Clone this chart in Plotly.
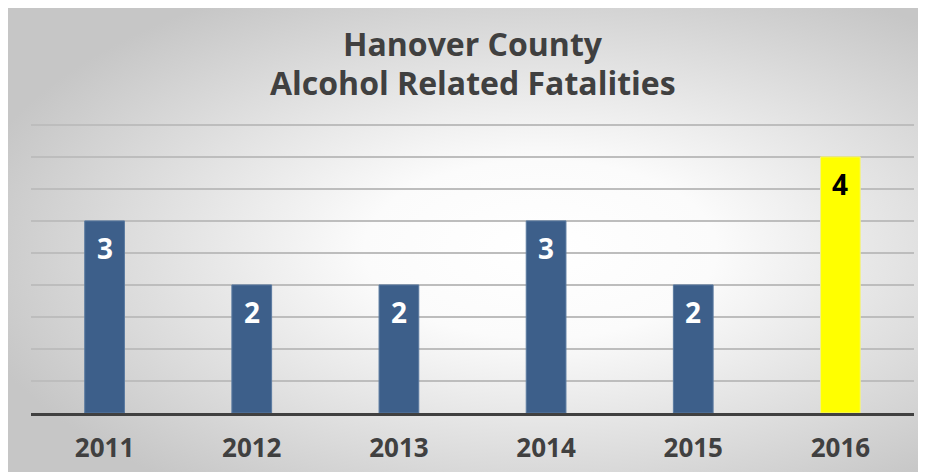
import base64
import plotly.graph_objects as go

years = ["2011", "2012", "2013", "2014", "2015", "2016"]
fatalities = [3, 2, 2, 3, 2, 4]
bar_colors = ["#3D5F8A", "#3D5F8A", "#3D5F8A", "#3D5F8A", "#3D5F8A", "#FFFF00"]
line_colors = ["#5a7aa0", "#5a7aa0", "#5a7aa0", "#5a7aa0", "#5a7aa0", "#f2f08a"]
label_colors = ["white", "white", "white", "white", "white", "black"]
title_lines = ["Hanover County", "Alcohol Related Fatalities"]

# page body has an 8px margin; figure coordinates = reference coordinates - 8
W, H = 918, 464
L, R, T, B = 23, 12, 113, 59

svg = f"""<svg xmlns='http://www.w3.org/2000/svg' width='{W}' height='{H}' viewBox='0 0 {W} {H}' preserveAspectRatio='none'>
<defs><radialGradient id='g' cx='0.58' cy='0.52' r='0.64' gradientUnits='objectBoundingBox'>
<stop offset='0' stop-color='#ffffff'/><stop offset='0.3' stop-color='#fbfbfb'/>
<stop offset='1' stop-color='#c6c6c6'/></radialGradient></defs>
<rect x='0' y='0' width='{W}' height='{H}' fill='url(#g)'/>
</svg>"""
src = "data:image/svg+xml;base64," + base64.b64encode(svg.encode()).decode()

pw = W - L - R
ph = H - T - B

fig = go.Figure()
fig.add_trace(go.Bar(
    x=years, y=fatalities, width=0.27,
    marker=dict(color=bar_colors, line=dict(color=line_colors, width=1)),
    hoverinfo="skip",
))

for i, (v, c) in enumerate(zip(fatalities, label_colors)):
    fig.add_annotation(x=i, y=v, text=f"<b>{v}</b>", showarrow=False,
                       yanchor="middle", yshift=-27,
                       font=dict(family="Open Sans", size=28, color=c))

fig.add_annotation(xref="paper", yref="paper", x=0.5, y=1 + (T - 36) / ph,
                   text=f"<b>{title_lines[0]}</b>", showarrow=False, yanchor="middle",
                   font=dict(family="Open Sans", size=32, color="#404040"))
fig.add_annotation(xref="paper", yref="paper", x=0.5, y=1 + (T - 75) / ph,
                   text=f"<b>{title_lines[1]}</b>", showarrow=False, yanchor="middle",
                   font=dict(family="Open Sans", size=32, color="#404040"))

fig.add_layout_image(dict(source=src, xref="paper", yref="paper",
                          x=-L / pw, y=1 + T / ph, sizex=W / pw, sizey=H / ph,
                          xanchor="left", yanchor="top", sizing="stretch", layer="below"))

fig.update_layout(
    width=W, height=H,
    margin=dict(l=L, r=R, t=T, b=B, pad=0, autoexpand=False),
    paper_bgcolor="rgba(0,0,0,0)", plot_bgcolor="rgba(0,0,0,0)",
    showlegend=False,
    xaxis=dict(type="category", range=[-0.5, 5.5], automargin=False, showgrid=False,
               showline=True, linecolor="#404040", linewidth=2.5,
               ticks="", tickfont=dict(family="Open Sans", size=26, color="#404040"),
               ticklabelstandoff=10, tickprefix="<b>", ticksuffix="</b>"),
    yaxis=dict(range=[0, 4.56], dtick=0.5, automargin=False, showgrid=True, gridcolor="#bdbdbd",
               gridwidth=1.5, showticklabels=False, zeroline=False, ticks=""),
)

fig.write_html("out.html")
